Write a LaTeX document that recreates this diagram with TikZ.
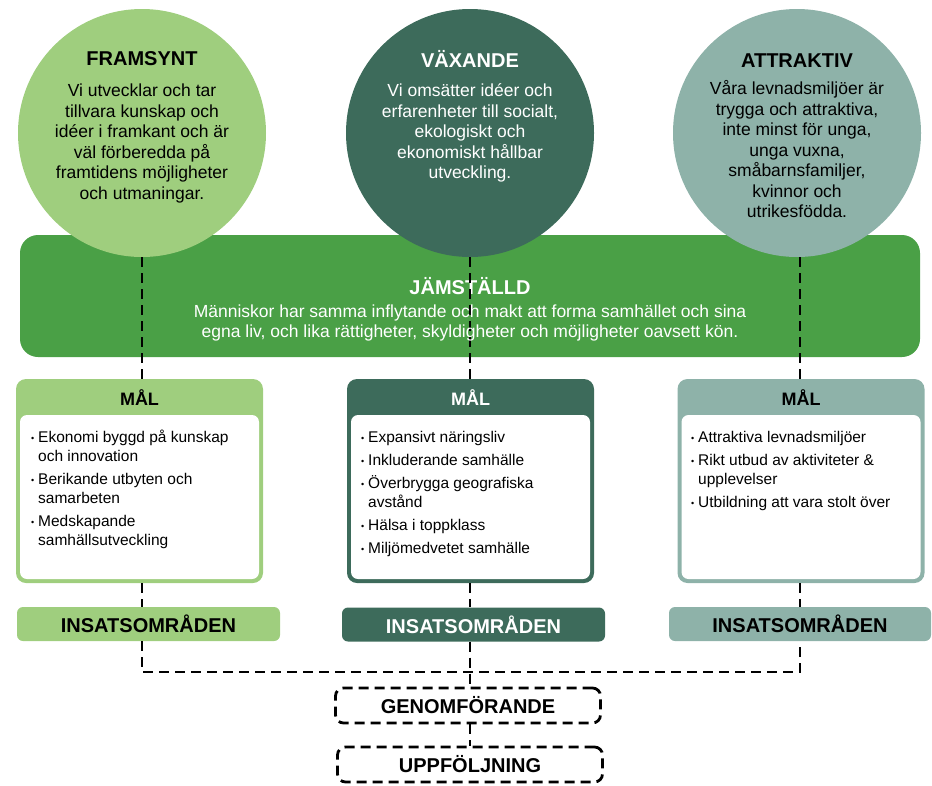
\documentclass[tikz,border=0pt]{standalone}
\usepackage{fontspec}
\setmainfont{Liberation Sans}
\definecolor{lgreen}{HTML}{9FCE7E}
\definecolor{dteal}{HTML}{3D6B5B}
\definecolor{gteal}{HTML}{8EB2A9}
\definecolor{bgreen}{HTML}{4AA046}
\newcommand{\fs}[2]{\fontsize{#1}{#2}\selectfont}
\newcommand{\bul}{\makebox[7pt][l]{\raisebox{1pt}{\fs{9}{9}•}}}
\newcommand{\ind}{\hspace*{7pt}}
\begin{document}
\begin{tikzpicture}[x=1pt,y=-1pt,
  circ/.style={circle, minimum size=248pt, inner sep=0pt},
  ctitle/.style={anchor=base, inner sep=0pt, font=\bfseries\fs{20}{24}},
  cbody/.style={anchor=north, inner sep=0pt, align=center, font=\fs{17.5}{20.5}},
  conn/.style={line width=2.8pt, dash pattern=on 10pt off 6pt},
  malouter/.style={rounded corners=10pt, minimum width=247pt, minimum height=204pt, inner sep=0pt},
  malinner/.style={fill=white, rounded corners=7pt, minimum width=239pt, minimum height=164pt, inner sep=0pt},
  maltitle/.style={anchor=base, inner sep=0pt, font=\bfseries\fs{18}{22}},
  items/.style={anchor=north west, inner sep=0pt, align=left, font=\fs{15.5}{19}},
  insbox/.style={rounded corners=6pt, minimum height=34pt, inner sep=0pt, font=\bfseries\fs{20}{24}},
  dbox/.style={draw, conn, rounded corners=8pt, minimum width=265pt, minimum height=35pt, inner sep=0pt, font=\bfseries\fs{20}{24}}
]
\useasboundingbox (0,0) rectangle (932,785);

% band
\node[fill=bgreen, rounded corners=18pt, minimum width=900pt, minimum height=122pt, inner sep=0pt] (band) at (470,296) {};

% circles
\node[circ, fill=lgreen] (c1) at (142,133) {};
\node[circ, fill=dteal] (c2) at (470,133) {};
\node[circ, fill=gteal] (c3) at (797,133) {};

\node[ctitle] (t1) at (142,65) {FRAMSYNT};
\node[cbody] (b1) at (142,82) {\strut Vi utvecklar och tar\\tillvara kunskap och\\idéer i framkant och är\\väl förberedda på\\framtidens möjligheter\\och utmaningar.};
\node[ctitle, text=white] (t2) at (470,67) {VÄXANDE};
\node[cbody, text=white] (b2) at (470,82) {\strut Vi omsätter idéer och\\erfarenheter till socialt,\\ekologiskt och\\ekonomiskt hållbar\\utveckling.};
\node[ctitle] (t3) at (797,67) {ATTRAKTIV};
\node[cbody] (b3) at (797,80) {\strut Våra levnadsmiljöer är\\trygga och attraktiva,\\inte minst för unga,\\unga vuxna,\\småbarnsfamiljer,\\kvinnor och\\utrikesfödda.};

% band text
\node[anchor=base, inner sep=0pt, text=white, font=\bfseries\fs{20}{24}] (jt) at (470,294) {JÄMSTÄLLD};

% MAL boxes
\node[malouter, fill=lgreen] (m1) at (139.5,481) {};
\node[malinner] (w1) at (139.5,497) {};
\node[maltitle] (mt1) at (139.5,405) {MÅL};
\node[items] (i1) at (31,429) {\strut\bul Ekonomi byggd på kunskap\\\ind och innovation\\[4pt]\bul Berikande utbyten och\\\ind samarbeten\\[4pt]\bul Medskapande\\\ind samhällsutveckling};

\node[malouter, fill=dteal] (m2) at (470.5,481) {};
\node[malinner] (w2) at (470.5,497) {};
\node[maltitle, text=white] (mt2) at (470.5,405) {MÅL};
\node[items] (i2) at (361,429) {\strut\bul Expansivt näringsliv\\[4pt]\bul Inkluderande samhälle\\[4pt]\bul Överbrygga geografiska\\\ind avstånd\\[4pt]\bul Hälsa i toppklass\\[4pt]\bul Miljömedvetet samhälle};

\node[malouter, fill=gteal] (m3) at (801,481) {};
\node[malinner] (w3) at (801,497) {};
\node[maltitle] (mt3) at (801,405) {MÅL};
\node[items] (i3) at (691,429) {\strut\bul Attraktiva levnadsmiljöer\\[4pt]\bul Rikt utbud av aktiviteter \&\\\ind upplevelser\\[4pt]\bul Utbildning att vara stolt över};

% INSATS boxes
\node[insbox, fill=lgreen, minimum width=263pt] (n1) at (148.5,624) {INSATSOMRÅDEN};
\node[insbox, fill=dteal, text=white, minimum width=263pt] (n2) at (473.5,624.5) {INSATSOMRÅDEN};
\node[insbox, fill=gteal, minimum width=262pt] (n3) at (800,624) {INSATSOMRÅDEN};

% bottom boxes
\node[dbox] (g) at (468,705.5) {GENOMFÖRANDE};
\node[dbox] (u) at (470,764.5) {UPPFÖLJNING};

% connectors
\coordinate (jl) at (142,672);
\coordinate (jr) at (800,672);
\draw[conn] (c1.south) -- (c1.south |- m1.north);
\draw[conn] (c2.south) -- (c2.south |- m2.north);
\draw[conn] (c3.south -| jr) -- (m3.north -| jr);
\draw[conn] (m1.south -| jl) -- (n1.north -| jl);
\draw[conn] (m2.south -| c2) -- (n2.north -| c2);
\draw[conn] (m3.south -| jr) -- (n3.north -| jr);
\draw[conn] (n1.south -| jl) -- (jl) -- (jr) -- (n3.south -| jr);
\draw[conn] (n2.south -| c2) -- (g.north -| c2);
\draw[conn] (g.south -| c2) -- (u.north -| c2);

% band body text (over connectors)
\node[anchor=north, inner sep=0pt, align=center, text=white, font=\fs{17.5}{19.5}] (jb) at (470,304) {\strut Människor har samma inflytande och makt att forma samhället och sina\\egna liv, och lika rättigheter, skyldigheter och möjligheter oavsett kön.};
\end{tikzpicture}
\end{document}
